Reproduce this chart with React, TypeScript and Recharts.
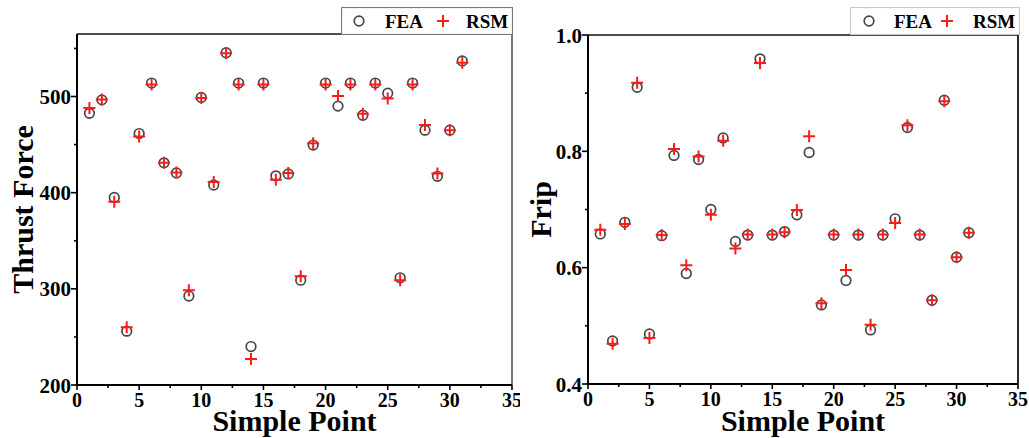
import React from 'react';
import { ScatterChart, Scatter, XAxis, YAxis, ReferenceLine, Legend } from 'recharts';

const samplePoints = [1, 2, 3, 4, 5, 6, 7, 8, 9, 10, 11, 12, 13, 14, 15, 16, 17, 18, 19, 20, 21, 22, 23, 24, 25, 26, 27, 28, 29, 30, 31];
const thrustFEA = [482.5, 496.5, 395, 256, 461.5, 514, 431, 420.5, 292.5, 499, 408, 545.5, 514, 240, 514, 417.5, 419.5, 309, 449.5, 514, 490, 514, 480.5, 514, 503.5, 311.5, 514, 465, 417, 465, 537];
const thrustRSM = [488, 497, 390.5, 260, 458.5, 512.5, 431, 421, 298.5, 498.5, 411, 545, 512.5, 227, 512.5, 413.5, 420.5, 313, 451.5, 512.5, 500.5, 512.5, 482, 512.5, 498, 309, 512.5, 470.5, 420, 465, 535];
const fripFEA = [0.658, 0.474, 0.678, 0.910, 0.486, 0.655, 0.793, 0.590, 0.786, 0.700, 0.823, 0.645, 0.656, 0.959, 0.656, 0.662, 0.691, 0.798, 0.536, 0.656, 0.578, 0.656, 0.493, 0.656, 0.684, 0.841, 0.656, 0.544, 0.888, 0.618, 0.660];
const fripRSM = [0.665, 0.469, 0.675, 0.918, 0.479, 0.656, 0.804, 0.604, 0.791, 0.691, 0.818, 0.633, 0.657, 0.952, 0.657, 0.661, 0.699, 0.826, 0.539, 0.657, 0.596, 0.657, 0.502, 0.657, 0.677, 0.845, 0.657, 0.544, 0.886, 0.618, 0.660];

const xTicks = [0, 2.5, 5, 7.5, 10, 12.5, 15, 17.5, 20, 22.5, 25, 27.5, 30, 32.5, 35];
const xTickLabels = [0, 5, 10, 15, 20, 25, 30, 35];
const thrustTicks = [200, 250, 300, 350, 400, 450, 500, 550];
const thrustTickLabels = [200, 300, 400, 500];
const fripTicks = [0.4, 0.5, 0.6, 0.7, 0.8, 0.9, 1.0];
const fripTickLabels = [0.4, 0.6, 0.8, 1.0];

const seriesNames = ['FEA', 'RSM'];

const FONT = '"Liberation Serif", "Times New Roman", serif';

const toRows = (ys: number[]) => samplePoints.map((x, i) => ({ x, y: ys[i] }));

const CircleShape = (props: any) => {
  const { cx, cy } = props;
  if (cx == null || cy == null) return null;
  return <circle cx={cx} cy={cy} r={4.8} fill="none" stroke="#454545" strokeWidth={1.7} />;
};

const CrossShape = (props: any) => {
  const { cx, cy } = props;
  if (cx == null || cy == null) return null;
  const a = 6;
  return (
    <path d={`M${cx - a},${cy}L${cx + a},${cy}M${cx},${cy - a}L${cx},${cy + a}`} stroke="#ff1a1a" strokeWidth={2} fill="none" />
  );
};

const makeXTick = (labels: number[]) => (props: any) => {
  const { x, y, payload } = props;
  const major = labels.some((v) => Math.abs(v - payload.value) < 1e-9);
  return (
    <g>
      <line x1={x} x2={x} y1={y} y2={y + (major ? 5 : 3)} stroke="#000" strokeWidth={1.6} />
      {major && (
        <text x={x} y={y + 8} dy="0.71em" textAnchor="middle" fontFamily={FONT} fontWeight="bold" fontSize={20} fill="#000">
          {payload.value}
        </text>
      )}
    </g>
  );
};

const makeYTick = (labels: number[], fmt: (v: number) => string) => (props: any) => {
  const { x, y, payload } = props;
  const major = labels.some((v) => Math.abs(v - payload.value) < 1e-9);
  return (
    <g>
      <line x1={x} x2={x - (major ? 6 : 3)} y1={y} y2={y} stroke="#000" strokeWidth={1.6} />
      {major && (
        <text x={x - 6} y={y} dy="0.36em" textAnchor="end" fontFamily={FONT} fontWeight="bold" fontSize={21} fill="#000">
          {fmt(payload.value)}
        </text>
      )}
    </g>
  );
};

const makeXTitle = (text: string) => (props: any) => {
  const vb = props.viewBox;
  return (
    <text x={vb.x + vb.width / 2} y={vb.y + vb.height - 7} textAnchor="middle" fontFamily={FONT} fontWeight="bold" fontSize={30} fill="#000">
      {text}
    </text>
  );
};

const makeYTitle = (text: string, baselineX: number) => (props: any) => {
  const vb = props.viewBox;
  const cy = vb.y + vb.height / 2;
  return (
    <text transform={`translate(${vb.x + baselineX},${cy}) rotate(-90)`} textAnchor="middle" fontFamily={FONT} fontWeight="bold" fontSize={30} fill="#000">
      {text}
    </text>
  );
};

const makeLegend = (w: number, border: string, pos: number[]) => () => (
  <svg width={w} height={28} style={{ display: 'block' }}>
    <rect x={0.5} y={0.5} width={w - 1} height={27} fill="#fff" stroke={border} strokeWidth={1.2} />
    <CircleShape cx={pos[0]} cy={14} />
    <text x={pos[1]} y={20.5} fontFamily={FONT} fontWeight="bold" fontSize={19} fill="#000">{seriesNames[0]}</text>
    <CrossShape cx={pos[2]} cy={14} />
    <text x={pos[3]} y={20.5} fontFamily={FONT} fontWeight="bold" fontSize={19} fill="#000">{seriesNames[1]}</text>
  </svg>
);

export default function App() {
  const thrustF = toRows(thrustFEA);
  const thrustR = toRows(thrustRSM);
  const fripF = toRows(fripFEA);
  const fripR = toRows(fripRSM);

  return (
    <div style={{ position: 'absolute', left: 0, top: 0, width: 1029, height: 438, background: '#fff', overflow: 'hidden' }}>
      <div style={{ position: 'absolute', left: 0, top: 0 }}>
        <ScatterChart width={520} height={438} margin={{ top: 34, right: 8, bottom: 0, left: 0 }}>
          <XAxis
            type="number"
            dataKey="x"
            domain={[0, 35]}
            ticks={xTicks}
            interval={0}
            height={53}
            tickSize={0}
            tickMargin={0}
            tickLine={false}
            axisLine={{ stroke: '#000', strokeWidth: 2 }}
            tick={makeXTick(xTickLabels)}
            label={{ content: makeXTitle('Simple Point') }}
          />
          <YAxis
            type="number"
            dataKey="y"
            domain={[200, 565]}
            ticks={thrustTicks}
            interval={0}
            width={77}
            tickSize={0}
            tickMargin={0}
            tickLine={false}
            axisLine={{ stroke: '#000', strokeWidth: 2 }}
            tick={makeYTick(thrustTickLabels, (v) => String(v))}
            label={{ content: makeYTitle('Thrust Force', 33) }}
          />
          <ReferenceLine y={565} stroke="#111" strokeWidth={1.6} />
          <ReferenceLine x={35} stroke="#777" strokeWidth={2} />
          <Scatter name={seriesNames[0]} data={thrustF} shape={CircleShape} isAnimationActive={false} />
          <Scatter name={seriesNames[1]} data={thrustR} shape={CrossShape} isAnimationActive={false} />
          <Legend
            layout="horizontal"
            verticalAlign="middle"
            align="center"
            content={makeLegend(172, '#777', [18, 44, 102, 125])}
            wrapperStyle={{ position: 'absolute', left: 341, top: 6.5, width: 172, height: 28 }}
          />
        </ScatterChart>
      </div>
      <div style={{ position: 'absolute', left: 520, top: 0 }}>
        <ScatterChart width={509} height={438} margin={{ top: 35, right: 11, bottom: 0, left: 0 }}>
          <XAxis
            type="number"
            dataKey="x"
            domain={[0, 35]}
            ticks={xTicks}
            interval={0}
            height={54}
            tickSize={0}
            tickMargin={0}
            tickLine={false}
            axisLine={{ stroke: '#000', strokeWidth: 2 }}
            tick={makeXTick(xTickLabels)}
            label={{ content: makeXTitle('Simple Point') }}
          />
          <YAxis
            type="number"
            dataKey="y"
            domain={[0.4, 1.0]}
            ticks={fripTicks}
            interval={0}
            width={68}
            tickSize={0}
            tickMargin={0}
            tickLine={false}
            axisLine={{ stroke: '#000', strokeWidth: 2 }}
            tick={makeYTick(fripTickLabels, (v) => v.toFixed(1))}
            label={{ content: makeYTitle('Frip', 31) }}
          />
          <ReferenceLine y={1.0} stroke="#111" strokeWidth={1.6} />
          <ReferenceLine x={35} stroke="#111" strokeWidth={1.8} />
          <Scatter name={seriesNames[0]} data={fripF} shape={CircleShape} isAnimationActive={false} />
          <Scatter name={seriesNames[1]} data={fripR} shape={CrossShape} isAnimationActive={false} />
          <Legend
            layout="horizontal"
            verticalAlign="middle"
            align="center"
            content={makeLegend(170, '#c8c8c8', [19, 44, 97, 123])}
            wrapperStyle={{ position: 'absolute', left: 330, top: 6.5, width: 170, height: 28 }}
          />
        </ScatterChart>
      </div>
    </div>
  );
}
